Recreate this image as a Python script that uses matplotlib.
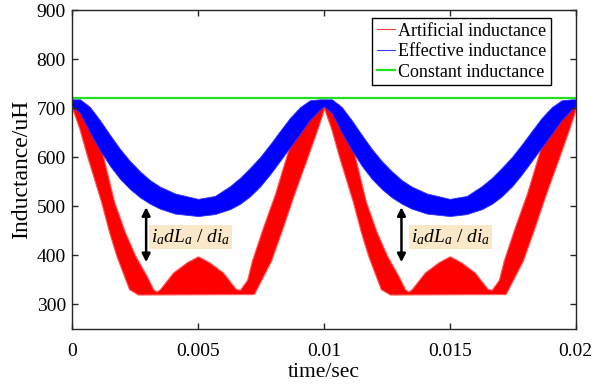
import numpy as np
import matplotlib
matplotlib.use("Agg")
import matplotlib.pyplot as plt
from matplotlib.lines import Line2D

plt.rcParams['font.family'] = ['Liberation Serif', 'DejaVu Serif']
plt.rcParams['mathtext.fontset'] = 'custom'
plt.rcParams['mathtext.rm'] = 'Liberation Serif'
plt.rcParams['mathtext.it'] = 'Liberation Serif:italic'

# ---- one electrical period (0 .. 0.01 s), envelopes of the ripple bands ----
# artificial inductance (uH): lower / upper envelope
art_t_lo = [0.0, 0.000277, 0.000595, 0.00115, 0.00147, 0.00175, 0.00206, 0.00226,
            0.00262, 0.00722, 0.0079, 0.00837, 0.00881, 0.00929, 0.00976, 0.00995, 0.01]
art_lo = [700, 660, 602, 509, 447, 400, 358, 331,
          320, 321, 389, 457, 524, 592, 660, 690, 700]

art_t_hi = [0.0, 0.0006, 0.000993, 0.00123, 0.00167, 0.0021, 0.0025, 0.00296,
            0.00322, 0.00335, 0.00349, 0.00401, 0.00456, 0.005, 0.00544, 0.00599,
            0.00651, 0.00667, 0.00695, 0.00714, 0.00758, 0.00805, 0.00845, 0.00885,
            0.00936, 0.0099, 0.01]
art_hi = [717, 707, 660, 602, 509, 447, 400, 358,
          331, 326, 331, 365, 386, 398, 386, 365,
          331, 330, 350, 389, 457, 524, 592, 660,
          707, 717, 717]

# effective inductance (uH): lower / upper envelope
eff_t = [0.0, 0.000317, 0.000714, 0.00111, 0.00151, 0.0019, 0.0023, 0.0027,
         0.0031, 0.00349, 0.00409, 0.005, 0.00567, 0.00627, 0.00667, 0.00706,
         0.00746, 0.00786, 0.00825, 0.00865, 0.00905, 0.00944, 0.00984, 0.01]
eff_lo = [704, 690, 650, 614, 582, 556, 535, 518,
          505, 495, 485, 480, 484, 494, 505, 520,
          540, 565, 592, 620, 648, 676, 697, 704]
eff_hi = [718, 718, 702, 675, 645, 617, 592, 571,
          553, 540, 526, 515, 521, 541, 558, 578,
          600, 626, 653, 680, 702, 716, 718, 718]

const_L = 720
period = 0.01

x_ticks = [0, 0.005, 0.01, 0.015, 0.02]
x_tick_labels = ['0', '0.005', '0.01', '0.015', '0.02']
y_ticks = [300, 400, 500, 600, 700, 800, 900]

# annotation: arrow x, arrow bottom/top, label left x, label y
arrow_x = [0.00294, 0.01308]
arrow_y = (386, 498)
label_x = [0.00315, 0.01345]
label_y = 438
label_text = r'$i_a dL_a\ /\ di_a$'


def two_periods(t, v):
    t = np.asarray(t, float)
    v = np.asarray(v, float)
    return np.concatenate([t, t[1:] + period]), np.concatenate([v, v[1:]])


fig = plt.figure(figsize=(6.06, 3.86), dpi=100)
ax = fig.add_axes([0.119, 0.148, 0.831, 0.826])

# artificial inductance band
ta_lo, va_lo = two_periods(art_t_lo, art_lo)
ta_hi, va_hi = two_periods(art_t_hi, art_hi)
tg = np.union1d(ta_lo, ta_hi)
ax.fill_between(tg, np.interp(tg, ta_lo, va_lo), np.interp(tg, ta_hi, va_hi),
                facecolor='#ff0000', lw=0.8, edgecolor='#ff5a5a')

# effective inductance band
te, ve_lo = two_periods(eff_t, eff_lo)
_, ve_hi = two_periods(eff_t, eff_hi)
ax.fill_between(te, ve_lo, ve_hi, facecolor='#0000ff', lw=0.6, edgecolor='#3030ff')

# constant inductance
ax.axhline(const_L, color='#22e022', lw=1.6)

ax.set_xlim(0, 0.02)
ax.set_ylim(250, 900)
ax.set_xticks(x_ticks)
ax.set_xticklabels(x_tick_labels)
ax.set_yticks(y_ticks)
ax.tick_params(direction='in', length=4, width=1, top=True, right=True,
               labelsize=14, colors='#262626', labelcolor='black')
ax.tick_params(axis='x', pad=10)
ax.tick_params(axis='y', pad=4.5)
for s in ax.spines.values():
    s.set_color('#262626')
    s.set_linewidth(1.0)

ax.set_xlabel('time/sec', fontsize=15.5, labelpad=2)
ax.set_ylabel('Inductance/uH', fontsize=17, labelpad=3)

for ax_x, lx in zip(arrow_x, label_x):
    ax.annotate('', xy=(ax_x, arrow_y[1]), xytext=(ax_x, arrow_y[0]),
                arrowprops=dict(arrowstyle='<|-|>', color='black', lw=1.8,
                                mutation_scale=12, shrinkA=0, shrinkB=0))
    ax.text(lx, label_y, label_text, fontsize=14, ha='left', va='center',
            bbox=dict(facecolor='#fbe8c8', edgecolor='none', pad=1.5))

handles = [Line2D([], [], color='#ff3b3b', lw=0.8),
           Line2D([], [], color='#3b3bff', lw=0.8),
           Line2D([], [], color='#22e022', lw=1.6)]
labels = ['Artificial inductance', 'Effective inductance', 'Constant inductance']
leg = ax.legend(handles, labels, loc='upper right', bbox_to_anchor=(0.95, 0.975),
                borderaxespad=0, fontsize=13, fancybox=False, framealpha=1,
                edgecolor='black', handlelength=1.0, handletextpad=0.15,
                labelspacing=0.2, borderpad=0.25)
leg.get_frame().set_linewidth(1.0)

fig.savefig('out.png', dpi=100)
